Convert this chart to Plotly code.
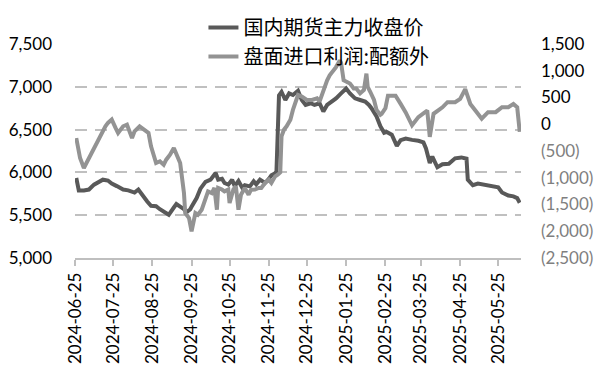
import plotly.graph_objects as go

# 国内期货主力收盘价 (left axis)
futures_dates = [
    "2024-06-26", "2024-06-28", "2024-07-02", "2024-07-06", "2024-07-10", "2024-07-14",
    "2024-07-17", "2024-07-21", "2024-07-24", "2024-07-28", "2024-08-02", "2024-08-06",
    "2024-08-11", "2024-08-14", "2024-08-18", "2024-08-21", "2024-08-24", "2024-08-28",
    "2024-08-31", "2024-09-04", "2024-09-07", "2024-09-11", "2024-09-13", "2024-09-16",
    "2024-09-19", "2024-09-21", "2024-09-24", "2024-09-25", "2024-09-29", "2024-10-02",
    "2024-10-06", "2024-10-10", "2024-10-14", "2024-10-16", "2024-10-19", "2024-10-21",
    "2024-10-24", "2024-10-27", "2024-10-29", "2024-11-01", "2024-11-04", "2024-11-06",
    "2024-11-10", "2024-11-13", "2024-11-15", "2024-11-18", "2024-11-22", "2024-11-25",
    "2024-11-27", "2024-11-30", "2024-12-01", "2024-12-03", "2024-12-05", "2024-12-08",
    "2024-12-11", "2024-12-14", "2024-12-18", "2024-12-21", "2024-12-24", "2024-12-28",
    "2024-12-31", "2025-01-04", "2025-01-07", "2025-01-10", "2025-01-14", "2025-01-17",
    "2025-01-21", "2025-01-25", "2025-01-28", "2025-02-01", "2025-02-05", "2025-02-09",
    "2025-02-12", "2025-02-14", "2025-02-18", "2025-02-21", "2025-02-24", "2025-02-26",
    "2025-03-02", "2025-03-06", "2025-03-09", "2025-03-13", "2025-03-18", "2025-03-23",
    "2025-03-27", "2025-03-29", "2025-04-01", "2025-04-03", "2025-04-07", "2025-04-11",
    "2025-04-16", "2025-04-21", "2025-04-26", "2025-04-30", "2025-05-01", "2025-05-05",
    "2025-05-09", "2025-05-15", "2025-05-20", "2025-05-25", "2025-05-28", "2025-06-02",
    "2025-06-06", "2025-06-09", "2025-06-11",
]
futures_values = [
    5935, 5790, 5790, 5800, 5857, 5896,
    5915, 5905, 5870, 5840, 5800, 5790,
    5765, 5800, 5710, 5660, 5610, 5605,
    5570, 5525, 5505, 5590, 5630, 5600,
    5570, 5535, 5570, 5600, 5700, 5810,
    5890, 5915, 5993, 5915, 5925, 5876,
    5857, 5915, 5840, 5900, 5820, 5850,
    5837, 5896, 5860, 5915, 5876, 5925,
    5965, 5990, 6010, 6900, 6940, 6846,
    6923, 6904, 6954, 6846, 6788, 6808,
    6788, 6808, 6712, 6788, 6827, 6865,
    6923, 6980, 6923, 6865, 6846, 6827,
    6788, 6750, 6654, 6540, 6462, 6473,
    6440, 6310, 6377, 6396, 6380, 6370,
    6350, 6280, 6110, 6185, 6060, 6095,
    6100, 6165, 6175, 6160, 5915, 5850,
    5870, 5850, 5840, 5825, 5765, 5730,
    5720, 5700, 5645,
]

# 盘面进口利润:配额外 (right axis)
profit_dates = [
    "2024-06-26", "2024-06-29", "2024-07-02", "2024-07-06", "2024-07-10", "2024-07-12",
    "2024-07-16", "2024-07-19", "2024-07-21", "2024-07-24", "2024-07-27", "2024-07-29",
    "2024-08-02", "2024-08-05", "2024-08-09", "2024-08-11", "2024-08-15", "2024-08-19",
    "2024-08-22", "2024-08-24", "2024-08-28", "2024-08-31", "2024-09-03", "2024-09-05",
    "2024-09-08", "2024-09-11", "2024-09-13", "2024-09-16", "2024-09-19", "2024-09-20",
    "2024-09-23", "2024-09-25", "2024-09-28", "2024-09-30", "2024-10-03", "2024-10-06",
    "2024-10-08", "2024-10-11", "2024-10-13", "2024-10-15", "2024-10-16", "2024-10-19",
    "2024-10-21", "2024-10-24", "2024-10-25", "2024-10-28", "2024-10-30", "2024-11-01",
    "2024-11-03", "2024-11-06", "2024-11-09", "2024-11-11", "2024-11-14", "2024-11-17",
    "2024-11-19", "2024-11-22", "2024-11-25", "2024-11-27", "2024-11-30", "2024-12-02",
    "2024-12-04", "2024-12-05", "2024-12-07", "2024-12-09", "2024-12-12", "2024-12-14",
    "2024-12-16", "2024-12-18", "2024-12-21", "2024-12-25", "2024-12-29", "2025-01-02",
    "2025-01-04", "2025-01-07", "2025-01-10", "2025-01-12", "2025-01-15", "2025-01-17",
    "2025-01-20", "2025-01-21", "2025-01-23", "2025-01-25", "2025-01-28", "2025-01-31",
    "2025-02-02", "2025-02-05", "2025-02-08", "2025-02-10", "2025-02-11", "2025-02-13",
    "2025-02-16", "2025-02-18", "2025-02-21", "2025-02-22", "2025-02-25", "2025-02-27",
    "2025-03-05", "2025-03-09", "2025-03-13", "2025-03-18", "2025-03-23", "2025-03-27",
    "2025-03-30", "2025-04-01", "2025-04-04", "2025-04-11", "2025-04-15", "2025-04-21",
    "2025-04-25", "2025-04-29", "2025-05-03", "2025-05-07", "2025-05-12", "2025-05-17",
    "2025-05-23", "2025-05-28", "2025-06-02", "2025-06-06", "2025-06-09", "2025-06-11",
]
profit_values = [
    -257, -631, -817, -631, -474, -350,
    -162, -38, 25, 87, -68, -162,
    -38, -7, -257, -132, -38, -100,
    -162, -412, -724, -692, -756, -662,
    -569, -444, -569, -724, -1286, -1660,
    -1754, -2004, -1660, -1692, -1598, -1410,
    -1255, -1286, -1191, -1598, -1191, -1220,
    -1255, -1220, -1473, -1220, -1161, -1598,
    -1316, -1191, -1316, -1223, -1220, -1191,
    -1191, -1098, -1036, -1098, -974, -942,
    -900, -223, -100, -39, 84, 268,
    393, 546, 516, 454, 454, 484,
    423, 639, 823, 916, 1007, 1068,
    1193, 1148, 823, 793, 761, 668,
    668, 577, 639, 946, 700, 607,
    454, 268, 177, 196, 300, 534,
    534, 380, 220, -20, 134, 204,
    257, -236, 196, 316, 412, 412,
    473, 657, 380, 257, 103, 226,
    226, 319, 319, 380, 316, -143,
]

x_tick_dates = [
    "2024-06-25", "2024-07-25", "2024-08-25", "2024-09-25", "2024-10-25", "2024-11-25",
    "2024-12-25", "2025-01-25", "2025-02-25", "2025-03-25", "2025-04-25", "2025-05-25",
]
left_ticks = [5000, 5500, 6000, 6500, 7000, 7500]
right_ticks = [-2500, -2000, -1500, -1000, -500, 0, 500, 1000, 1500]

series_names = ["国内期货主力收盘价", "盘面进口利润:配额外"]


def fmt_right(v):
    if v < 0:
        return '<span style="color:#7f7f7f">(' + f"{-v:,}" + ')</span>'
    return f"{v:,}"


fig = go.Figure()
fig.add_trace(go.Scatter(
    x=futures_dates, y=futures_values, name=series_names[0], mode="lines",
    line=dict(color="#595959", width=4), yaxis="y",
))
fig.add_trace(go.Scatter(
    x=profit_dates, y=profit_values, name=series_names[1], mode="lines",
    line=dict(color="#939393", width=4), yaxis="y2",
))

num_font = dict(family="Lato, 'Liberation Sans', sans-serif", size=17, color="#000000")

# The page body adds an 8px offset, so the figure is 8px smaller on each axis.
fig.update_layout(
    width=595, height=368,
    margin=dict(l=67, r=82, t=36, b=118, autoexpand=False),
    paper_bgcolor="white", plot_bgcolor="white",
    showlegend=True,
    legend=dict(
        orientation="v", x=0.288, xanchor="left", y=1.168, yanchor="top",
        font=dict(family="Noto Sans CJK SC", size=20, color="#000000"),
        bgcolor="rgba(0,0,0,0)", borderwidth=0,
    ),
    xaxis=dict(
        type="date",
        range=["2024-06-25", "2025-06-12"],
        tickvals=x_tick_dates, ticktext=x_tick_dates,
        tickangle=-90,
        ticks="outside", ticklen=6, tickcolor="#bfbfbf", tickwidth=1.5,
        showline=True, linecolor="#bfbfbf", linewidth=1.5,
        showgrid=False, zeroline=False,
        tickfont=dict(family="Lato, 'Liberation Sans', sans-serif", size=17, color="#000000"),
    ),
    yaxis=dict(
        range=[5000, 7500], tickvals=left_ticks,
        ticktext=[f"{v:,}" for v in left_ticks],
        showgrid=True, gridcolor="#c0c0c0", gridwidth=1.5, griddash="12px,8px",
        zeroline=False, showline=False,
        ticks="", ticklabelstandoff=22,
        tickfont=num_font,
    ),
    yaxis2=dict(
        range=[-2500, 1500], overlaying="y", side="right",
        tickvals=right_ticks, ticktext=[fmt_right(v) for v in right_ticks],
        showgrid=False, zeroline=False, showline=False,
        ticks="", ticklabelstandoff=19,
        tickfont=num_font,
    ),
)

fig.write_html("out.html")
